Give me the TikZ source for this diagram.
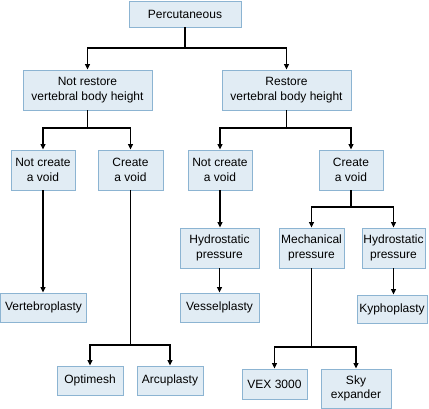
\documentclass[tikz,border=0pt]{standalone}
\usepackage{fontspec}
\setmainfont{Liberation Sans}
\usetikzlibrary{arrows.meta}
\definecolor{boxfill}{HTML}{E1ECF4}
\definecolor{boxline}{HTML}{8CB4D2}
\begin{document}
\begin{tikzpicture}[x=1pt,y=-1pt,
  box/.style={draw=boxline,fill=boxfill,line width=0.9pt,align=center,inner sep=0pt,
    font=\fontsize{12}{14.5}\selectfont},
  arr/.style={draw=black,line width=1.3pt,-{Triangle[length=5.5pt,width=5pt]}},
  ln/.style={draw=black,line width=1.3pt}]
\useasboundingbox (0,0) rectangle (429,409);
\node[box,minimum width=112pt,minimum height=26pt] (P) at (185,14) {Percutaneous};
\node[box,minimum width=129pt,minimum height=40pt] (NR) at (87.5,90) {Not restore\\vertebral body height};
\node[box,minimum width=129pt,minimum height=40pt] (R) at (286.5,90) {Restore\\vertebral body height};
\node[box,minimum width=64pt,minimum height=40pt] (NC1) at (43,170) {Not create\\a void};
\node[box,minimum width=65pt,minimum height=40pt] (C1) at (130.5,170) {Create\\a void};
\node[box,minimum width=64pt,minimum height=40pt] (NC2) at (220,170) {Not create\\a void};
\node[box,minimum width=64pt,minimum height=40pt] (C2) at (351,170) {Create\\a void};
\node[box,minimum width=86pt,minimum height=29pt] (V) at (43.5,307.5) {Vertebroplasty};
\node[box,minimum width=66pt,minimum height=29pt] (O) at (90,380.5) {Optimesh};
\node[box,minimum width=66pt,minimum height=29pt] (A) at (170,380.5) {Arcuplasty};
\node[box,minimum width=79pt,minimum height=40pt] (H1) at (219.5,248) {Hydrostatic\\pressure};
\node[box,minimum width=79pt,minimum height=29pt] (Ves) at (219.5,307.5) {Vesselplasty};
\node[box,minimum width=65pt,minimum height=40pt] (M) at (311.5,248) {Mechanical\\pressure};
\node[box,minimum width=63pt,minimum height=40pt] (H2) at (393.5,248) {Hydrostatic\\pressure};
\node[box,minimum width=70pt,minimum height=28pt] (K) at (392,309) {Kyphoplasty};
\node[box,minimum width=65pt,minimum height=30pt] (VEX) at (274.5,384) {VEX 3000};
\node[box,minimum width=70pt,minimum height=39pt] (Sky) at (356,388.5) {Sky\\expander};
% junctions
\coordinate (j0) at (185,48);
\coordinate (j1) at (87.5,128);
\coordinate (j2) at (286.5,128);
\coordinate (j3) at (130.5,345);
\coordinate (j4) at (351,207);
\coordinate (j5) at (311.5,347);
\draw[ln] (P.south) -- (j0);
\draw[arr] (j0) -| (NR.north);
\draw[arr] (j0) -| (R.north);
\draw[ln] (NR.south) -- (j1);
\draw[arr] (j1) -| (NC1.north);
\draw[arr] (j1) -| (C1.north);
\draw[ln] (R.south) -- (j2);
\draw[arr] (j2) -| (NC2.north);
\draw[arr] (j2) -| (C2.north);
\draw[arr] (NC1.south) -- (NC1.south |- V.north);
\draw[ln] (C1.south) -- (j3);
\draw[arr] (j3) -| (O.north);
\draw[arr] (j3) -| (A.north);
\draw[arr] (NC2.south) -- (NC2.south |- H1.north);
\draw[arr] (H1.south) -- (Ves.north);
\draw[ln] (C2.south) -- (j4);
\draw[arr] (j4) -| (M.north);
\draw[arr] (j4) -| (H2.north);
\draw[arr] (H2.south) -- (H2.south |- K.north);
\draw[ln] (M.south) -- (j5);
\draw[arr] (j5) -| (VEX.north);
\draw[arr] (j5) -| (Sky.north);
\end{tikzpicture}
\end{document}
